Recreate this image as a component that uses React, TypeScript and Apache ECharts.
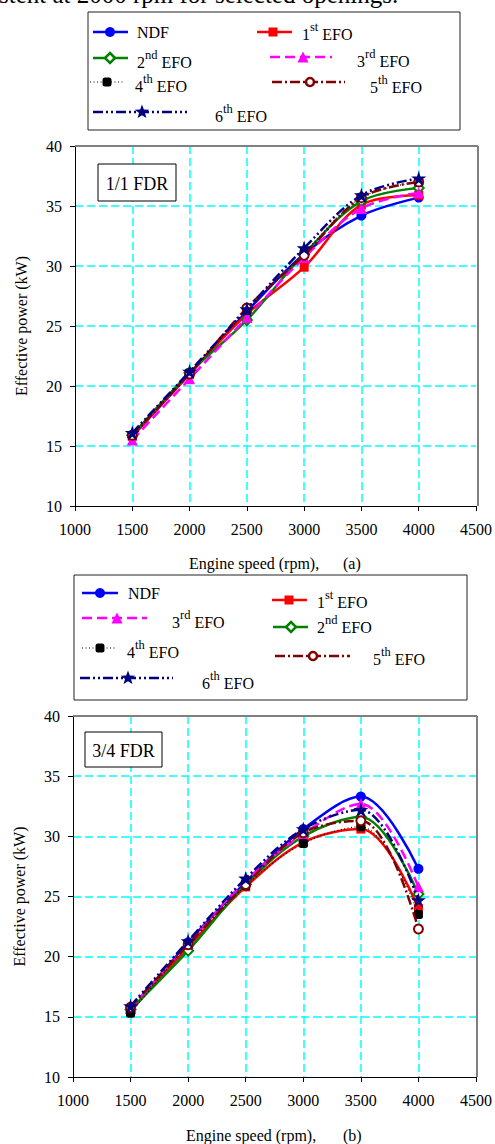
import React, { useEffect, useRef } from "react";
import * as echarts from "echarts";

// ---- data -------------------------------------------------------------
const speeds = [1500, 2000, 2500, 3000, 3500, 4000];
const xTicks = [1000, 1500, 2000, 2500, 3000, 3500, 4000, 4500];
const yTicks = [10, 15, 20, 25, 30, 35, 40];

const seriesNames = ["NDF", "1st EFO", "2nd EFO", "3rd EFO", "4th EFO", "5th EFO", "6th EFO"];

// (a) full opening, 1/1 FDR — effective power (kW)
const ndfA = [15.8, 21.0, 26.2, 31.0, 34.2, 35.7];
const efo1A = [15.8, 21.0, 26.0, 29.9, 35.1, 35.9];
const efo2A = [15.9, 21.1, 25.5, 31.0, 35.4, 36.5];
const efo3A = [15.5, 20.6, 25.7, 30.7, 34.8, 36.1];
const efo4A = [15.9, 21.1, 26.3, 31.1, 35.7, 37.0];
const efo5A = [15.9, 21.0, 26.5, 30.9, 35.7, 37.0];
const efo6A = [16.1, 21.2, 26.4, 31.5, 35.9, 37.3];

// (b) 3/4 FDR — effective power (kW)
const ndfB = [15.4, 21.2, 26.2, 30.6, 33.3, 27.3];
const efo1B = [15.5, 20.8, 25.8, 29.5, 30.6, 24.0];
const efo2B = [15.6, 20.5, 26.0, 30.0, 31.6, 25.2];
const efo3B = [15.7, 21.1, 26.3, 30.2, 32.7, 25.8];
const efo4B = [15.3, 21.0, 25.9, 29.4, 30.8, 23.5];
const efo5B = [15.8, 21.0, 26.0, 30.3, 31.3, 22.3];
const efo6B = [15.9, 21.3, 26.5, 30.6, 32.2, 24.7];

const panelA = [ndfA, efo1A, efo2A, efo3A, efo4A, efo5A, efo6A];
const panelB = [ndfB, efo1B, efo2B, efo3B, efo4B, efo5B, efo6B];

// ---- styling ----------------------------------------------------------
const FONT = '"Liberation Serif", "Times New Roman", Times, serif';
const STAR_PATH =
  "path://M12,0 L14.8,8.6 L24,8.6 L16.6,14 L19.4,22.8 L12,17.4 L4.6,22.8 L7.4,14 L0,8.6 L9.2,8.6 Z";

type SeriesStyle = {
  color: string;
  symbol: string;
  size: number;
  dash: number[] | null;
  width: number;
};

const seriesStyles: SeriesStyle[] = [
  { color: "#0000FF", symbol: "circle", size: 10, dash: null, width: 2.5 },
  { color: "#FF0000", symbol: "rect", size: 9, dash: null, width: 2.5 },
  { color: "#008000", symbol: "emptyDiamond", size: 10, dash: null, width: 2.5 },
  { color: "#FF00FF", symbol: "triangle", size: 11, dash: [10, 5], width: 2.5 },
  { color: "#000000", symbol: "roundRect", size: 9, dash: [1, 2.5], width: 1.2 },
  { color: "#800000", symbol: "emptyCircle", size: 9, dash: [10, 3, 2, 3], width: 2.5 },
  { color: "#000080", symbol: STAR_PATH, size: 15, dash: [10, 3, 2, 3, 2, 3], width: 2.5 },
];

const legendParts: [string, string, string][] = [
  ["NDF", "", ""],
  ["1", "st", "EFO"],
  ["2", "nd", "EFO"],
  ["3", "rd", "EFO"],
  ["4", "th", "EFO"],
  ["5", "th", "EFO"],
  ["6", "th", "EFO"],
];

// legend slots: sample line from x1 to x2, marker at mx, row at y, label at (tx, ty)
type Slot = { i: number; x1: number; x2: number; mx: number; y: number; tx: number; ty: number };

const legendSlotsA: Slot[] = [
  { i: 0, x1: 93, x2: 128, mx: 110, y: 32, tx: 137, ty: 32 },
  { i: 1, x1: 257, x2: 292, mx: 273, y: 32, tx: 302, ty: 34 },
  { i: 2, x1: 93, x2: 128, mx: 110, y: 58, tx: 137, ty: 62 },
  { i: 3, x1: 270, x2: 332, mx: 303, y: 57, tx: 357, ty: 61 },
  { i: 4, x1: 90, x2: 123, mx: 107, y: 82, tx: 135, ty: 86 },
  { i: 5, x1: 272, x2: 345, mx: 310, y: 82, tx: 370, ty: 87 },
  { i: 6, x1: 93, x2: 187, mx: 142, y: 112, tx: 215, ty: 116 },
];

const legendSlotsB: Slot[] = [
  { i: 0, x1: 82, x2: 118, mx: 100, y: 593, tx: 128, ty: 593 },
  { i: 1, x1: 272, x2: 307, mx: 289, y: 600, tx: 317, ty: 602 },
  { i: 3, x1: 82, x2: 147, mx: 117, y: 618, tx: 172, ty: 622 },
  { i: 2, x1: 273, x2: 308, mx: 291, y: 627, tx: 317, ty: 627 },
  { i: 4, x1: 82, x2: 117, mx: 100, y: 648, tx: 127, ty: 652 },
  { i: 5, x1: 275, x2: 350, mx: 313, y: 656, tx: 373, ty: 659 },
  { i: 6, x1: 80, x2: 173, mx: 128, y: 678, tx: 202, ty: 683 },
];

const gridA = { left: 75, top: 146, width: 403, height: 360 };
const gridB = { left: 73, top: 716, width: 404, height: 361 };

let measureCtx: CanvasRenderingContext2D | null = null;
function textWidth(s: string, size: number): number {
  if (!measureCtx) measureCtx = document.createElement("canvas").getContext("2d");
  if (!measureCtx) return s.length * size * 0.5;
  measureCtx.font = `${size}px ${FONT}`;
  return measureCtx.measureText(s).width;
}

function txt(text: string, x: number, y: number, size: number, align = "left", extra: any = {}) {
  return {
    type: "text",
    x,
    y,
    z: 110,
    style: {
      text,
      fontSize: size,
      fontFamily: FONT,
      fill: "#000",
      align,
      textAlign: align,
      verticalAlign: "middle",
      textVerticalAlign: "middle",
      ...extra,
    },
  };
}

function starPoints(cx: number, cy: number, r: number): number[][] {
  const pts: number[][] = [];
  for (let k = 0; k < 10; k++) {
    const rad = k % 2 === 0 ? r : r * 0.42;
    const a = -Math.PI / 2 + (k * Math.PI) / 5;
    pts.push([cx + rad * Math.cos(a), cy + rad * Math.sin(a)]);
  }
  return pts;
}

function legendMarker(st: SeriesStyle, cx: number, cy: number): any {
  const s = st.size;
  const z = 112;
  switch (st.symbol) {
    case "circle":
      return { type: "circle", z, shape: { cx, cy, r: s / 2 }, style: { fill: st.color } };
    case "rect":
      return { type: "rect", z, shape: { x: cx - s / 2, y: cy - s / 2, width: s, height: s }, style: { fill: st.color } };
    case "roundRect":
      return { type: "rect", z, shape: { x: cx - s / 2, y: cy - s / 2, width: s, height: s, r: 2.5 }, style: { fill: st.color } };
    case "emptyDiamond":
      return {
        type: "polygon",
        z,
        shape: { points: [[cx, cy - s / 2], [cx + s / 2, cy], [cx, cy + s / 2], [cx - s / 2, cy]] },
        style: { fill: "#fff", stroke: st.color, lineWidth: 2.5 },
      };
    case "triangle":
      return {
        type: "polygon",
        z,
        shape: { points: [[cx, cy - s / 2], [cx + s / 2, cy + s / 2], [cx - s / 2, cy + s / 2]] },
        style: { fill: st.color },
      };
    case "emptyCircle":
      return { type: "circle", z, shape: { cx, cy, r: s / 2 - 0.5 }, style: { fill: "#fff", stroke: st.color, lineWidth: 2.5 } };
    default:
      return { type: "polygon", z, shape: { points: starPoints(cx, cy, s / 2) }, style: { fill: st.color } };
  }
}

function legendEntry(slot: Slot): any[] {
  const st = seriesStyles[slot.i];
  const els: any[] = [
    {
      type: "line",
      z: 111,
      shape: { x1: slot.x1, y1: slot.y, x2: slot.x2, y2: slot.y },
      style: { stroke: st.color, lineWidth: st.width, lineDash: st.dash || undefined },
    },
    legendMarker(st, slot.mx, slot.y),
  ];
  const [base, sup, tail] = legendParts[slot.i];
  let x = slot.tx;
  els.push(txt(base, x, slot.ty, 16));
  if (sup) {
    x += textWidth(base, 16);
    els.push(txt(sup, x, slot.ty - 7.5, 12.5));
    x += textWidth(sup, 12.5) + textWidth(" ", 16);
    els.push(txt(tail, x, slot.ty, 16));
  }
  return els;
}

function panelFrame(g: { left: number; top: number; width: number; height: number }): any[] {
  const r = g.left + g.width;
  return [
    { type: "line", z: 50, shape: { x1: g.left, y1: g.top, x2: r, y2: g.top }, style: { stroke: "#808080", lineWidth: 2 } },
    { type: "line", z: 50, shape: { x1: r, y1: g.top, x2: r, y2: g.top + g.height }, style: { stroke: "#808080", lineWidth: 2 } },
  ];
}

function labelBox(text: string, x: number, y: number, w: number, h: number): any[] {
  return [
    { type: "rect", z: 105, shape: { x, y, width: w, height: h }, style: { fill: "#fff", stroke: "#000", lineWidth: 1 } },
    txt(text, x + w / 2, y + h / 2 + 1, 18, "center"),
  ];
}

const plainNumber = (v: number) => String(v);

function xAxisCfg(gridIndex: number) {
  return {
    type: "value",
    gridIndex,
    min: xTicks[0],
    max: xTicks[xTicks.length - 1],
    interval: xTicks[1] - xTicks[0],
    axisLine: { show: true, onZero: false, lineStyle: { color: "#000", width: 1 } },
    axisTick: { show: true, length: 5, lineStyle: { color: "#000" } },
    axisLabel: { fontSize: 16, fontFamily: FONT, color: "#000", margin: 15, formatter: plainNumber },
    splitLine: {
      show: true,
      showMinLine: false,
      showMaxLine: false,
      lineStyle: { color: "#00FFFF", type: [8, 4], width: 1.5 },
    },
  };
}

function yAxisCfg(gridIndex: number) {
  return {
    type: "value",
    gridIndex,
    min: yTicks[0],
    max: yTicks[yTicks.length - 1],
    interval: yTicks[1] - yTicks[0],
    name: "Effective power (kW)",
    nameLocation: "middle",
    nameGap: 46,
    nameTextStyle: { fontSize: 16, fontFamily: FONT, color: "#000" },
    axisLine: { show: true, onZero: false, lineStyle: { color: "#000", width: 1 } },
    axisTick: { show: true, length: 5, lineStyle: { color: "#000" } },
    axisLabel: { fontSize: 16, fontFamily: FONT, color: "#000", margin: 13, formatter: plainNumber },
    splitLine: {
      show: true,
      showMinLine: false,
      showMaxLine: false,
      lineStyle: { color: "#00FFFF", type: [8, 4], width: 1.5 },
    },
  };
}

function buildSeries(panel: number[][], axisIndex: number) {
  return panel.map((vals, i) => {
    const st = seriesStyles[i];
    return {
      type: "line",
      name: seriesNames[i],
      xAxisIndex: axisIndex,
      yAxisIndex: axisIndex,
      data: speeds.map((s, k) => [s, vals[k]]),
      smooth: 0.35,
      symbol: st.symbol,
      symbolSize: st.size,
      showAllSymbol: true,
      z: 10 + i,
      lineStyle: { color: st.color, width: st.width, type: st.dash || "solid" },
      itemStyle: {
        color: st.color,
        borderColor: st.color,
        borderWidth: st.symbol.startsWith("empty") ? 2.5 : 0,
        opacity: 1,
      },
      emphasis: { disabled: true },
    };
  });
}

export default function App() {
  const ref = useRef<HTMLDivElement>(null);

  useEffect(() => {
    if (!ref.current) return;
    const chart = echarts.init(ref.current, undefined, { renderer: "svg" });

    const graphics: any[] = [
      // running text above the figure
      txt("stent at 2000 rpm for selected openings.", -1, 7, 25, "left", {
        verticalAlign: "bottom",
        textVerticalAlign: "bottom",
      }),
      { type: "rect", z: 100, shape: { x: 88, y: 12, width: 372, height: 118 }, style: { fill: "#fff", stroke: "#222", lineWidth: 1 } },
      ...legendSlotsA.flatMap(legendEntry),
      { type: "rect", z: 100, shape: { x: 74, y: 575, width: 393, height: 125 }, style: { fill: "#fff", stroke: "#222", lineWidth: 1 } },
      ...legendSlotsB.flatMap(legendEntry),
      ...panelFrame(gridA),
      ...panelFrame(gridB),
      ...labelBox("1/1 FDR", 98, 164, 78, 37),
      ...labelBox("3/4 FDR", 85, 732, 77, 35),
      txt("Engine speed (rpm),", 189, 563, 16),
      txt("(a)", 343, 563, 16),
      txt("Engine speed (rpm),", 186, 1135, 16),
      txt("(b)", 343, 1135, 16),
    ];

    chart.setOption({
      animation: false,
      backgroundColor: "#fff",
      grid: [
        { ...gridA, containLabel: false },
        { ...gridB, containLabel: false },
      ],
      xAxis: [xAxisCfg(0), xAxisCfg(1)],
      yAxis: [yAxisCfg(0), yAxisCfg(1)],
      series: [...buildSeries(panelA, 0), ...buildSeries(panelB, 1)],
      graphic: { elements: graphics },
    });

    return () => chart.dispose();
  }, []);

  return (
    <div
      ref={ref}
      style={{ position: "absolute", left: 0, top: 0, width: 495, height: 1144, background: "#fff" }}
    />
  );
}
